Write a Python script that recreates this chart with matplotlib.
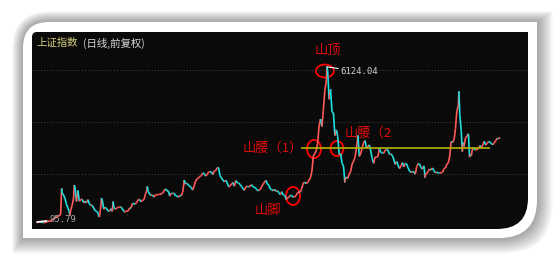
import numpy as np
import matplotlib
matplotlib.use('Agg')
import matplotlib.pyplot as plt
from matplotlib.path import Path
from matplotlib.patches import PathPatch, Ellipse
from matplotlib.collections import LineCollection

plt.rcParams['font.family'] = ['Noto Sans CJK SC', 'DejaVu Sans']

# 上证指数 月收盘 (1990-12 .. 2017-10), 估读
first_year = 1990
first_month = 12
closes = [
    127,
    129, 134, 120, 113, 114, 137, 145, 180, 180, 218, 259, 292,
    313, 365, 370, 445, 1266, 1168, 1052, 823, 690, 525, 590, 780,
    1062, 1482, 925, 1358, 935, 1007, 1008, 876, 932, 879, 997, 833,
    775, 778, 669, 567, 553, 467, 333, 750, 973, 628, 706, 648,
    563, 551, 648, 547, 700, 630, 665, 702, 715, 716, 642, 555,
    537, 554, 559, 676, 668, 849, 840, 832, 898, 1000, 1003, 917,
    965, 998, 1201, 1353, 1299, 1218, 1158, 1178, 1097, 1182, 1189, 1194,
    1206, 1211, 1243, 1343, 1412, 1339, 1336, 1133, 1247, 1234, 1247, 1147,
    1135, 1090, 1159, 1147, 1279, 1689, 1601, 1627, 1556, 1508, 1464, 1367,
    1535, 1714, 1800, 1836, 1894, 1928, 2023, 2005, 1910, 1961, 2070, 2073,
    2066, 1960, 2112, 2119, 2214, 2218, 1920, 1834, 1749, 1690, 1747, 1646,
    1491, 1524, 1603, 1658, 1515, 1732, 1653, 1636, 1581, 1507, 1420, 1358,
    1499, 1511, 1487, 1521, 1576, 1487, 1477, 1421, 1367, 1348, 1397, 1497,
    1590, 1675, 1742, 1595, 1555, 1399, 1386, 1342, 1396, 1320, 1340, 1266,
    1191, 1306, 1181, 1159, 1060, 1080, 1083, 1162, 1155, 1092, 1099, 1161,
    1258, 1299, 1298, 1440, 1641, 1672, 1612, 1658, 1752, 1837, 2099, 2675,
    2786, 2881, 3183, 3841, 4109, 3820, 4471, 5218, 5552, 5955, 4871, 5261,
    4383, 4348, 3473, 3693, 3433, 2736, 2775, 2397, 2293, 1729, 1871, 1821,
    1991, 2082, 2373, 2477, 2633, 2959, 3412, 2667, 2779, 2996, 3195, 3277,
    2989, 3051, 3110, 2871, 2592, 2398, 2638, 2639, 2656, 2979, 2820, 2808,
    2791, 2905, 2928, 2911, 2743, 2762, 2701, 2568, 2359, 2469, 2333, 2199,
    2292, 2428, 2263, 2396, 2373, 2225, 2103, 2047, 2086, 2069, 1980, 2269,
    2385, 2366, 2237, 2178, 2301, 1979, 1994, 2098, 2175, 2141, 2220, 2116,
    2033, 2056, 2033, 2026, 2039, 2048, 2202, 2217, 2364, 2420, 2683, 3235,
    3210, 3310, 3748, 4442, 4612, 4277, 3664, 3206, 3053, 3383, 3445, 3539,
    2738, 2688, 3004, 2938, 2917, 2930, 2979, 3085, 3005, 3100, 3250, 3104,
    3159, 3242, 3223, 3155, 3117, 3192, 3273, 3361, 3349, 3393,
]

# 月内高低点 (年份小数, 点位)
extreme_t = [1990.96, 1992.39, 1992.87, 1993.12, 1994.58, 1994.70, 1995.38,
             1996.03, 1997.36, 1999.50, 2001.45, 2005.42, 2007.79, 2008.83,
             2009.59, 2013.49, 2015.45, 2015.65, 2016.07]
extreme_v = [95.79, 1429, 386, 1558, 325, 1052, 926,
             512, 1510, 1756, 2245, 998, 6124.04, 1664,
             3478, 1849, 5178, 2850, 2638]

peak_t, peak_v = 2007.79, 6124.04
low_t, low_v = 1990.96, 95.79
waist_level = 3000

# 合并成一条时间序列
month_t = [first_year + (first_month + i) / 12.0 for i in range(len(closes))]
t_all = np.array(month_t + extreme_t)
v_all = np.array(closes + extreme_v, dtype=float)
order = np.argsort(t_all)
t_all, v_all = t_all[order], v_all[order]

W, H = 560, 261
fig = plt.figure(figsize=(W / 100, H / 100), dpi=100)
fig.patch.set_facecolor('white')


def card_path(x0, y0, x1, y1, r_tl, r_br):
    verts = [(x0 + r_tl, y0), (x1, y0), (x1, y1 - r_br), (x1, y1), (x1 - r_br, y1),
             (x0, y1), (x0, y0 + r_tl), (x0, y0), (x0 + r_tl, y0), (x0 + r_tl, y0)]
    codes = [Path.MOVETO, Path.LINETO, Path.LINETO, Path.CURVE3, Path.CURVE3,
             Path.LINETO, Path.LINETO, Path.CURVE3, Path.CURVE3, Path.CLOSEPOLY]
    return Path(verts, codes)


bg = fig.add_axes([0, 0, 1, 1])
bg.set_xlim(0, W)
bg.set_ylim(H, 0)
bg.axis('off')

# 阴影
for k in range(12, 0, -1):
    bg.add_patch(PathPatch(card_path(23 - k * 0.9, 22 - k * 0.9, 537 + k * 1.3, 238 + k * 1.3,
                                     26 + k, 38 + k),
                           facecolor='#000000', edgecolor='none', alpha=0.03))
bg.add_patch(PathPatch(card_path(23, 22, 537, 238, 26, 38), facecolor='white', edgecolor='none'))
bg.add_patch(PathPatch(card_path(32, 32, 528, 229, 5, 31), facecolor='#0a0a0a', edgecolor='none'))

# 标题
bg.text(36, 43, '上证指数', color='#d6d07a', fontsize=7.5, va='center', ha='left')
bg.text(83, 43, '(日线,前复权)', color='#d8d8d8', fontsize=7.5, va='center', ha='left')

# 标注文字
red = '#e00c0c'
bg.text(328, 50, '山顶', color=red, fontsize=9.5, va='center', ha='center')
bg.text(243, 148, '山腰（1）', color=red, fontsize=9.5, va='center', ha='left')
bg.text(345, 133, '山腰（2', color=red, fontsize=9.5, va='center', ha='left')
bg.text(268, 210, '山脚', color=red, fontsize=9.5, va='center', ha='center')

# 行情区
ax = fig.add_axes([32 / W, 1 - 229 / H, 496 / W, 197 / H])
ax.set_facecolor('none')
ax.set_xlim(1990.67, 2019.46)
ax.set_ylim(-136, 7469)
ax.axis('off')

for g in [2000, 4000, 6000]:
    ax.axhline(g, color='#555555', lw=0.6, ls=(0, (1, 2.5)))

pts = np.column_stack([t_all, v_all])
segs = np.stack([pts[:-1], pts[1:]], axis=1)
cols = ['#ff5a5a' if b >= a else '#1fe0e0' for a, b in zip(v_all[:-1], v_all[1:])]
ax.add_collection(LineCollection(segs, colors=cols, linewidths=1.2))

ax.hlines(waist_level, 2006.28, 2017.25, color='#b4b400', lw=1.2)

for (ct, cv, ew, eh) in [(2007.67, 5963, 1.04, 500), (2007.04, 2952, 0.81, 700),
                         (2008.37, 2972, 0.75, 580), (2005.82, 1140, 0.81, 700)]:
    ax.add_patch(Ellipse((ct, cv), ew, eh, fill=False, edgecolor='#ff0000', lw=1.3))

ax.annotate('6124.04', xy=(peak_t, peak_v), xytext=(10, -3.5), textcoords='offset points',
            color='#d0d0d0', fontsize=6.5, family='DejaVu Sans Mono', va='center', ha='left',
            arrowprops=dict(arrowstyle='-', color='white', lw=0.8, shrinkA=0, shrinkB=0))
ax.annotate('95.79', xy=(low_t, low_v + 40), xytext=(9, 2), textcoords='offset points',
            color='#a8a8a8', fontsize=6.5, family='DejaVu Sans Mono', va='center', ha='left',
            arrowprops=dict(arrowstyle='-', color='white', lw=1.2, shrinkA=0, shrinkB=0))

fig.savefig('out.png', dpi=100, facecolor='white')
